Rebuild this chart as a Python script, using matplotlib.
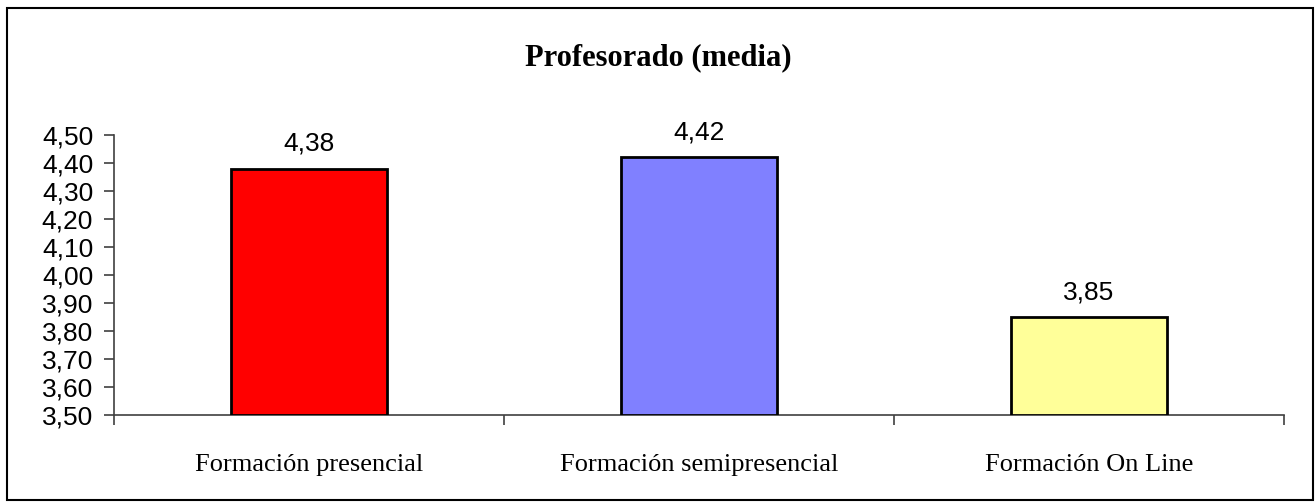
import numpy as np
import matplotlib
matplotlib.use("Agg")
from matplotlib import pyplot as plt
from matplotlib.patches import Rectangle

# data
categories = ["Formación presencial", "Formación semipresencial", "Formación On Line"]
values = [4.38, 4.42, 3.85]
bar_colors = ["#FF0000", "#8080FF", "#FFFF99"]
yticks = [3.5, 3.6, 3.7, 3.8, 3.9, 4.0, 4.1, 4.2, 4.3, 4.4, 4.5]
title = "Profesorado (media)"

fig = plt.figure(figsize=(13.16, 5.04), dpi=100)
ax = fig.add_axes([0.0866, 0.1766, 0.889, 0.5556])

x = np.arange(len(categories))
ax.bar(x, np.array(values) - 3.5, bottom=3.5, width=0.4, color=bar_colors,
       edgecolor="black", linewidth=2, zorder=3)

for xi, v in zip(x, values):
    ax.text(xi, v + 0.045, f"{v:.2f}".replace(".", ","), ha="center", va="bottom",
            fontsize=19, family="Liberation Sans")

ax.set_xlim(-0.5, 2.5)
ax.set_ylim(3.5, 4.5)
ax.set_yticks(yticks)
ax.set_yticklabels([f"{t:.2f}".replace(".", ",") for t in yticks],
                   fontsize=19, family="Liberation Sans")
ax.set_xticks(x)
ax.set_xticklabels(categories, fontsize=19, family="Liberation Serif")
ax.set_xticks([-0.5, 0.5, 1.5, 2.5], minor=True)
ax.tick_params(axis="x", which="major", length=0, pad=28)
ax.tick_params(axis="x", which="minor", length=7, width=1.2, color="#404040")
ax.tick_params(axis="y", length=7, width=1.2, color="#404040", pad=8)

for s in ["top", "right"]:
    ax.spines[s].set_visible(False)
for s in ["left", "bottom"]:
    ax.spines[s].set_color("#404040")
    ax.spines[s].set_linewidth(1.2)

fig.text(0.5, 1 - 58 / 504, title, ha="center", va="center", fontsize=22,
         fontweight="bold", family="Liberation Serif")

# outer frame
fig.patches.append(Rectangle((7 / 1316, 4 / 504), 1306 / 1316, 492 / 504,
                             transform=fig.transFigure, fill=False,
                             edgecolor="black", linewidth=1.5))

plt.savefig("out.png", dpi=100)
